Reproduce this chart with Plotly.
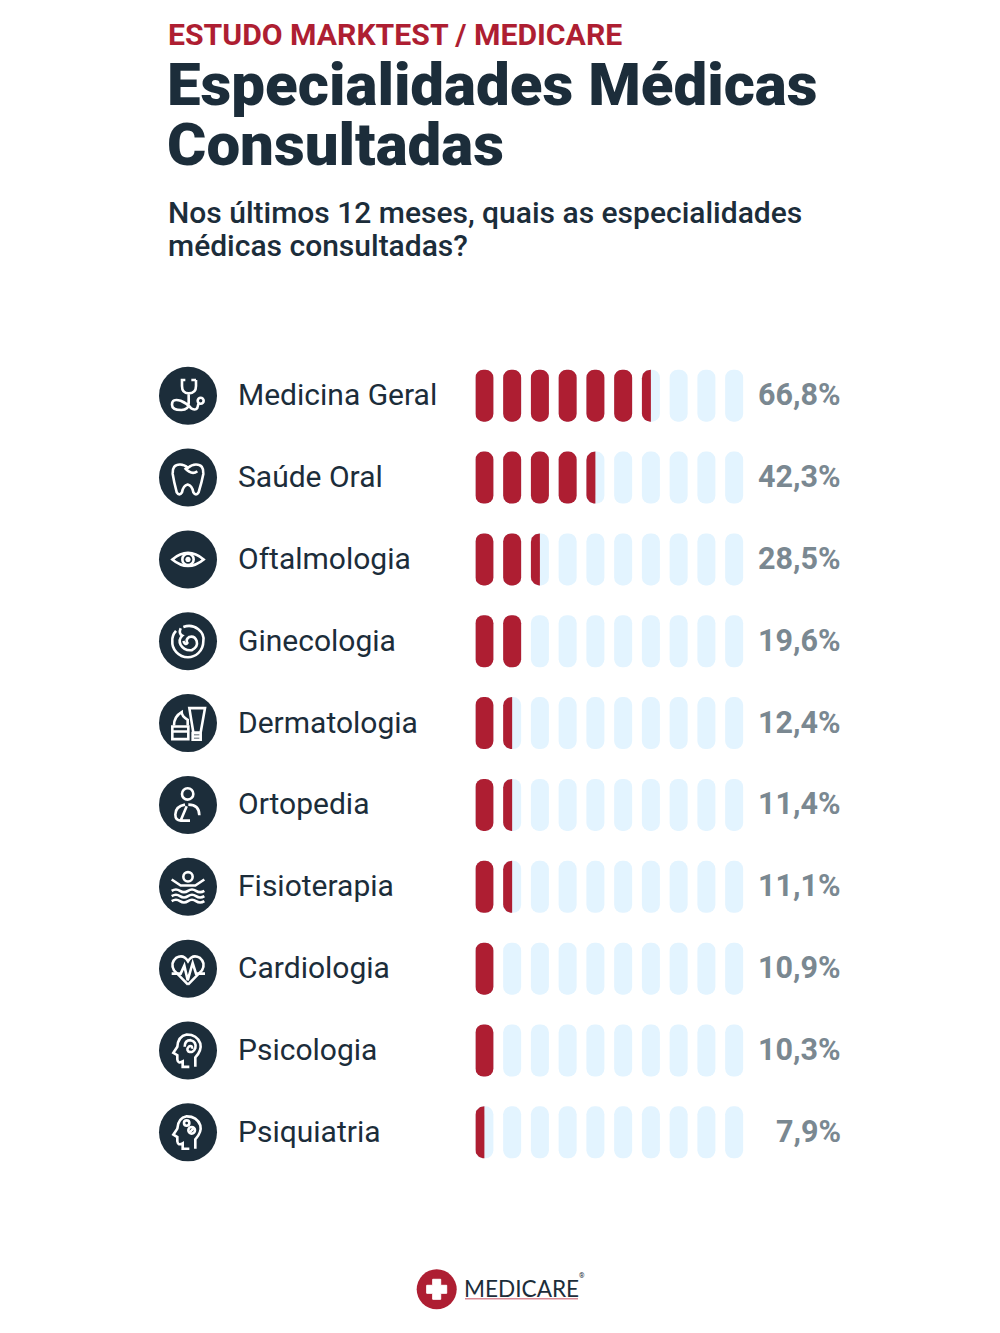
import re

import numpy as np
import plotly.graph_objects as go

specialties = ['Medicina Geral', 'Saúde Oral', 'Oftalmologia', 'Ginecologia', 'Dermatologia',
               'Ortopedia', 'Fisioterapia', 'Cardiologia', 'Psicologia', 'Psiquiatria']
percent = [66.8, 42.3, 28.5, 19.6, 12.4, 11.4, 11.1, 10.9, 10.3, 7.9]
# how many of the 10 pills are coloured in each row, as drawn in the picture
filled_pills = [6.5, 4.5, 2.5, 2, 1.5, 1.5, 1.5, 1, 1, 0.5]

DARK = '#1c2d3a'
RED = '#ae1e32'
PALE = '#e3f4ff'
GREY = '#7a8891'
W, H = 1000, 1333

# page layout in pixels
PILL_LEFT, PILL_STEP, PILL_W, PILL_H, PILL_R = 475.4, 27.75, 18, 52, 8.5
ROW_TOP, ROW_STEP = 395.7, 81.85
ICON_X, ICON_R = 188, 29


def px(x):
    return x / W


def py(y):
    return 1 - y / H


def half_pill(start, row):
    # left half of a pill, flat on the right side
    rx = PILL_R / PILL_STEP
    ry = PILL_R / ROW_STEP
    half_w = PILL_W / PILL_STEP / 2
    half_h = PILL_H / ROW_STEP / 2
    t = np.linspace(0, np.pi / 2, 12)
    xs = [start + half_w, start + half_w]
    ys = [row - half_h, row + half_h]
    # bottom left corner then top left corner (row axis is reversed)
    xs += list(start + rx - rx * np.sin(t))
    ys += list(row + half_h - ry + ry * np.cos(t))
    xs += list(start + rx - rx * np.cos(t))
    ys += list(row - half_h + ry - ry * np.sin(t))
    xs.append(start + half_w)
    ys.append(row - half_h)
    return xs, ys


rows = list(range(len(specialties)))

fig = go.Figure()

# pale pills in every row
pale_y = [r for r in rows for i in range(10)]
pale_base = [i for r in rows for i in range(10)]
fig.add_trace(go.Bar(y=pale_y, x=[PILL_W / PILL_STEP] * len(pale_y), base=pale_base, orientation='h',
                     width=PILL_H / ROW_STEP, marker=dict(color=PALE, cornerradius=PILL_R, line_width=0),
                     hoverinfo='skip'))

# whole red pills
red_y = [r for r in rows for i in range(int(filled_pills[r]))]
red_base = [i for r in rows for i in range(int(filled_pills[r]))]
fig.add_trace(go.Bar(y=red_y, x=[PILL_W / PILL_STEP] * len(red_y), base=red_base, orientation='h',
                     width=PILL_H / ROW_STEP, marker=dict(color=RED, cornerradius=PILL_R, line_width=0),
                     hoverinfo='skip'))

# half red pills
for r in rows:
    if filled_pills[r] % 1:
        xs, ys = half_pill(int(filled_pills[r]), r)
        fig.add_trace(go.Scatter(x=xs, y=ys, mode='lines', fill='toself', fillcolor=RED,
                                 line=dict(width=0, color=RED), hoverinfo='skip'))


def ring(cx, cy, r):
    k = 0.552 * r
    return (f'M{cx - r} {cy} C{cx - r} {cy - k} {cx - k} {cy - r} {cx} {cy - r} '
            f'C{cx + k} {cy - r} {cx + r} {cy - k} {cx + r} {cy} '
            f'C{cx + r} {cy + k} {cx + k} {cy + r} {cx} {cy + r} '
            f'C{cx - k} {cy + r} {cx - r} {cy + k} {cx - r} {cy} Z ')


def head(o):
    # head profile used by both brain icons, o shifts it down
    return (f'M136 {650 + o} L136 {622 + o} Q156 {600 + o} 151 {580 + o} Q141 {553 + o} 110 {553 + o} '
            f'Q84 {558 + o} 82 {590 + o} L70 {608 + o} L82 {615 + o} L82 {628 + o} Q84 {642 + o} 98 {634 + o} '
            f'L98 {650 + o} L118 {650 + o} ')


# icon outlines drawn by hand, in a 3x space around each circle centre (cx, cy)
icons = [
    dict(c=(114, 105), d=['M92 58 L106 58 M124 58 L138 58 M96 58 L96 76 Q96 98 116 98 Q138 98 138 76 L138 58 '
                          'M116 98 L116 128 Q116 148 94 148 Q66 148 66 132 Q66 112 92 120 Q112 128 125 144 '
                          'Q142 152 144 134 L146 128 ', ring(152, 120, 9)]),
    dict(c=(114, 351), d=['M90 312 Q66 312 68 340 Q72 365 80 395 Q88 408 96 395 Q100 375 113 372 Q126 375 130 395 '
                          'Q138 408 146 395 Q155 365 160 340 Q162 312 138 312 Q125 312 114 322 Q103 312 90 312 Z '
                          'M104 322 Q125 345 142 332']),
    dict(c=(114, 597), d=['M67 597 Q114 558 161 597 Q114 636 67 597 Z ', ring(114, 597, 17)],
         fill=[ring(114, 597, 8)]),
    dict(c=(114, 107), d=['M100 64 C135 52 165 80 160 107 C160 138 135 155 114 155 C85 155 65 130 67 107 '
                          'C66 95 70 85 78 76 ',
                          'M92 68 Q85 85 97 90 Q84 102 92 118 Q102 136 125 134 Q145 124 140 106 Q134 90 118 94 '
                          'Q106 102 112 112 Q106 120 100 106 ']),
    dict(c=(114, 355), d=['M67 365 L115 365 L115 403 L67 403 Z M67 380 L115 380 ',
                          'M72 362 Q72 335 95 322 Q95 335 113 345 L113 362 ',
                          'M118 310 L165 310 L152 383 L130 383 Z M128 385 L152 385 L152 405 L128 405 Z M128 395 L152 395']),
    dict(c=(114, 601), d=[ring(113, 568, 17),
                          'M115 600 Q148 600 148 632 M105 600 Q76 605 76 630 Q76 648 92 648 L120 648 M92 648 L110 605 ']),
    dict(c=(114, 110), d=[ring(114, 80, 14),
                          'M65 88 L92 106 L136 106 L163 88 ',
                          'M65 122 Q78 114 90 122 Q102 130 114 122 Q126 114 138 122 Q150 130 163 122 ',
                          'M65 138 Q78 130 90 138 Q102 146 114 138 Q126 130 138 138 Q150 146 163 138 ',
                          'M65 153 Q78 145 90 153 Q102 161 114 153 Q126 145 138 153 Q150 161 163 153 ']),
    dict(c=(114, 357), d=['M114 405 L72 362 Q60 340 78 325 Q100 312 114 335 Q128 312 150 325 Q168 340 156 362 L114 405 ',
                          'M65 372 L92 372 L103 348 L113 392 L128 340 L138 372 L165 372 ']),
    dict(c=(114, 601), d=[head(0),
                          'M104 590 Q104 570 122 570 Q140 574 136 594 Q130 610 115 604 Q108 596 118 588 Q128 586 126 596 ']),
    dict(c=(114, 848), d=[head(247),
                          ring(110, 820, 8), ring(125, 842, 10), 'M118 850 L132 834 ']),
]


def to_paper(d, c, row_y):
    def pair(m):
        x = ICON_X + (float(m.group(1)) - c[0]) / 3
        y = row_y + (float(m.group(2)) - c[1]) / 3
        return f'{px(x):.5f},{py(y):.5f}'
    return re.sub(r'(-?\d+\.?\d*) (-?\d+\.?\d*)', pair, d)


shapes = []
annotations = []


def put_text(text, x, y, size, color, weight=400, anchor='left', family='Roboto'):
    annotations.append(dict(text=text, xref='paper', yref='paper', x=px(x), y=py(y), xanchor=anchor, yanchor='middle',
                            showarrow=False, borderpad=0, borderwidth=0,
                            font=dict(family=family, size=size, color=color, weight=weight)))


for r, name in enumerate(specialties):
    row_y = ROW_TOP + ROW_STEP * r
    shapes.append(dict(type='circle', xref='paper', yref='paper', fillcolor=DARK, line_width=0,
                       x0=px(ICON_X - ICON_R), x1=px(ICON_X + ICON_R),
                       y0=py(row_y + ICON_R), y1=py(row_y - ICON_R)))
    for d in icons[r]['d']:
        shapes.append(dict(type='path', xref='paper', yref='paper', path=to_paper(d, icons[r]['c'], row_y),
                           line=dict(color='white', width=2.6)))
    for d in icons[r].get('fill', []):
        shapes.append(dict(type='path', xref='paper', yref='paper', path=to_paper(d, icons[r]['c'], row_y),
                           fillcolor='white', line_width=0))
    put_text(name, 238, row_y - 1, 30, DARK)
    put_text(f'{percent[r]:.1f}'.replace('.', ',') + '%', 841, row_y - 1, 30.5, GREY, weight=700, anchor='right')

# headline
put_text('ESTUDO MARKTEST / MEDICARE', 167.5, 34, 30.2, RED, weight=700)
put_text('Especialidades Médicas', 167, 85, 60, DARK, weight=900)
put_text('Consultadas', 167, 144, 60, DARK, weight=900)
put_text('Nos últimos 12 meses, quais as especialidades', 168, 213, 30, DARK, weight=500)
put_text('médicas consultadas?', 168, 245.5, 30, DARK, weight=500)

# logo
LOGO_X, LOGO_Y = 436.7, 1289.3
shapes.append(dict(type='circle', xref='paper', yref='paper', fillcolor=RED, line_width=0,
                   x0=px(LOGO_X - 20), x1=px(LOGO_X + 20), y0=py(LOGO_Y + 20), y1=py(LOGO_Y - 20)))
cross = ('M-4 -10 L4 -10 L4 -4 L10 -4 L10 4 L4 4 L4 10 L-4 10 L-4 4 L-10 4 L-10 -4 L-4 -4 Z')
cross = re.sub(r'(-?\d+) (-?\d+)', lambda m: f'{px(LOGO_X + int(m.group(1))):.5f},{py(LOGO_Y + int(m.group(2))):.5f}', cross)
shapes.append(dict(type='path', xref='paper', yref='paper', path=cross, fillcolor='white',
                   line=dict(color='white', width=1)))
shapes.append(dict(type='line', xref='paper', yref='paper', x0=px(465), x1=px(578), y0=py(1298.7), y1=py(1298.7),
                   line=dict(color='#d98a95', width=1.5)))
put_text('MEDICARE', 464, 1288, 22.6, DARK, family='Lato')
put_text('®', 579, 1276, 7, DARK)

fig.update_layout(
    width=W, height=H,
    margin=dict(l=0, r=0, t=0, b=0),
    paper_bgcolor='white', plot_bgcolor='white',
    barmode='overlay',
    showlegend=False,
    xaxis=dict(range=[0, 10], domain=[px(PILL_LEFT), px(PILL_LEFT + 10 * PILL_STEP)], visible=False, fixedrange=True),
    yaxis=dict(range=[len(rows) - 0.5, -0.5],
               domain=[py(ROW_TOP + ROW_STEP * (len(rows) - 0.5)), py(ROW_TOP - ROW_STEP * 0.5)],
               visible=False, fixedrange=True),
    shapes=shapes,
    annotations=annotations,
)

fig.write_html('out.html', config=dict(displayModeBar=False),
               post_script="document.body.style.margin='0';")
